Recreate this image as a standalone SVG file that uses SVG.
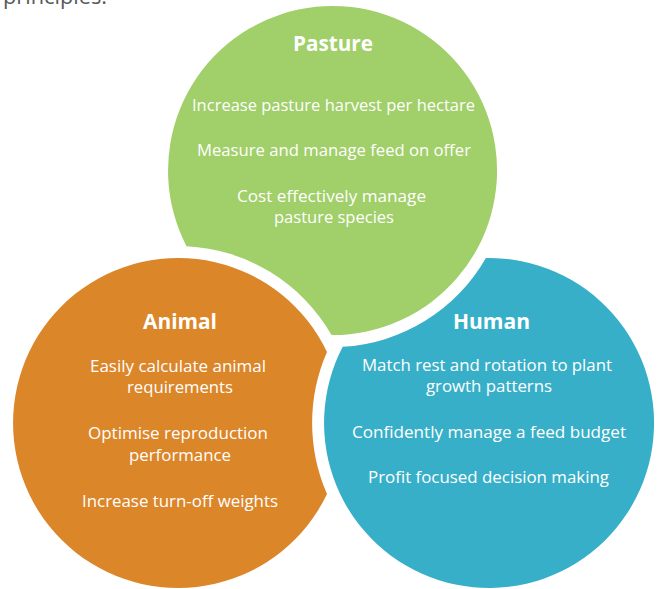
<svg xmlns="http://www.w3.org/2000/svg" width="664" height="589" viewBox="0 0 664 589">
  <style>
    .t { font-family: "Open Sans", "Liberation Sans", sans-serif; font-size: 16px; fill: #ffffff; text-anchor: middle; }
    .h { font-family: "Open Sans", "Liberation Sans", sans-serif; font-size: 22px; font-weight: bold; fill: #ffffff; text-anchor: middle; }
    .cap { font-family: "Open Sans", "Liberation Sans", sans-serif; font-size: 21px; fill: #58595b; }
  </style>
  <rect width="664" height="589" fill="#ffffff"/>
  <text class="cap" x="3" y="4" textLength="104" lengthAdjust="spacingAndGlyphs">principles.</text>

  <g id="pasture">
    <path d="M 331.5 335 A 164.5 164.5 0 1 0 186.5 246.2 A 177 177 0 0 1 331.5 335 Z" fill="#a1cf69"/>
    <text class="h" x="333" y="51" textLength="80" lengthAdjust="spacingAndGlyphs">Pasture</text>
    <text class="t" x="333.5" y="111" textLength="283" lengthAdjust="spacingAndGlyphs">Increase pasture harvest per hectare</text>
    <text class="t" x="334" y="156" textLength="274" lengthAdjust="spacingAndGlyphs">Measure and manage feed on offer</text>
    <text class="t" x="331.5" y="202" textLength="189" lengthAdjust="spacingAndGlyphs">Cost effectively manage</text>
    <text class="t" x="334" y="223" textLength="120" lengthAdjust="spacingAndGlyphs">pasture species</text>
  </g>

  <g id="animal">
    <path d="M 327 352 A 165 165 0 1 0 327 494 A 177 177 0 0 1 327 352 Z" fill="#dc862a"/>
    <text class="h" x="180" y="329" textLength="74" lengthAdjust="spacingAndGlyphs">Animal</text>
    <text class="t" x="178" y="372" textLength="176" lengthAdjust="spacingAndGlyphs">Easily calculate animal</text>
    <text class="t" x="180" y="393" textLength="106" lengthAdjust="spacingAndGlyphs">requirements</text>
    <text class="t" x="178" y="439" textLength="180" lengthAdjust="spacingAndGlyphs">Optimise reproduction</text>
    <text class="t" x="180" y="461" textLength="102" lengthAdjust="spacingAndGlyphs">performance</text>
    <text class="t" x="180" y="507" textLength="196" lengthAdjust="spacingAndGlyphs">Increase turn-off weights</text>
  </g>

  <g id="human">
    <path d="M 485.9 258 A 165 165 0 1 1 342.7 346.8 A 176.5 176.5 0 0 0 485.9 258 Z" fill="#38afc8"/>
    <text class="h" x="491.5" y="329" textLength="77" lengthAdjust="spacingAndGlyphs">Human</text>
    <text class="t" x="487" y="371" textLength="250" lengthAdjust="spacingAndGlyphs">Match rest and rotation to plant</text>
    <text class="t" x="489" y="392" textLength="126" lengthAdjust="spacingAndGlyphs">growth patterns</text>
    <text class="t" x="489" y="438" textLength="274" lengthAdjust="spacingAndGlyphs">Confidently manage a feed budget</text>
    <text class="t" x="488.5" y="483" textLength="241" lengthAdjust="spacingAndGlyphs">Profit focused decision making</text>
  </g>

  <g id="connectors"/>
</svg>
